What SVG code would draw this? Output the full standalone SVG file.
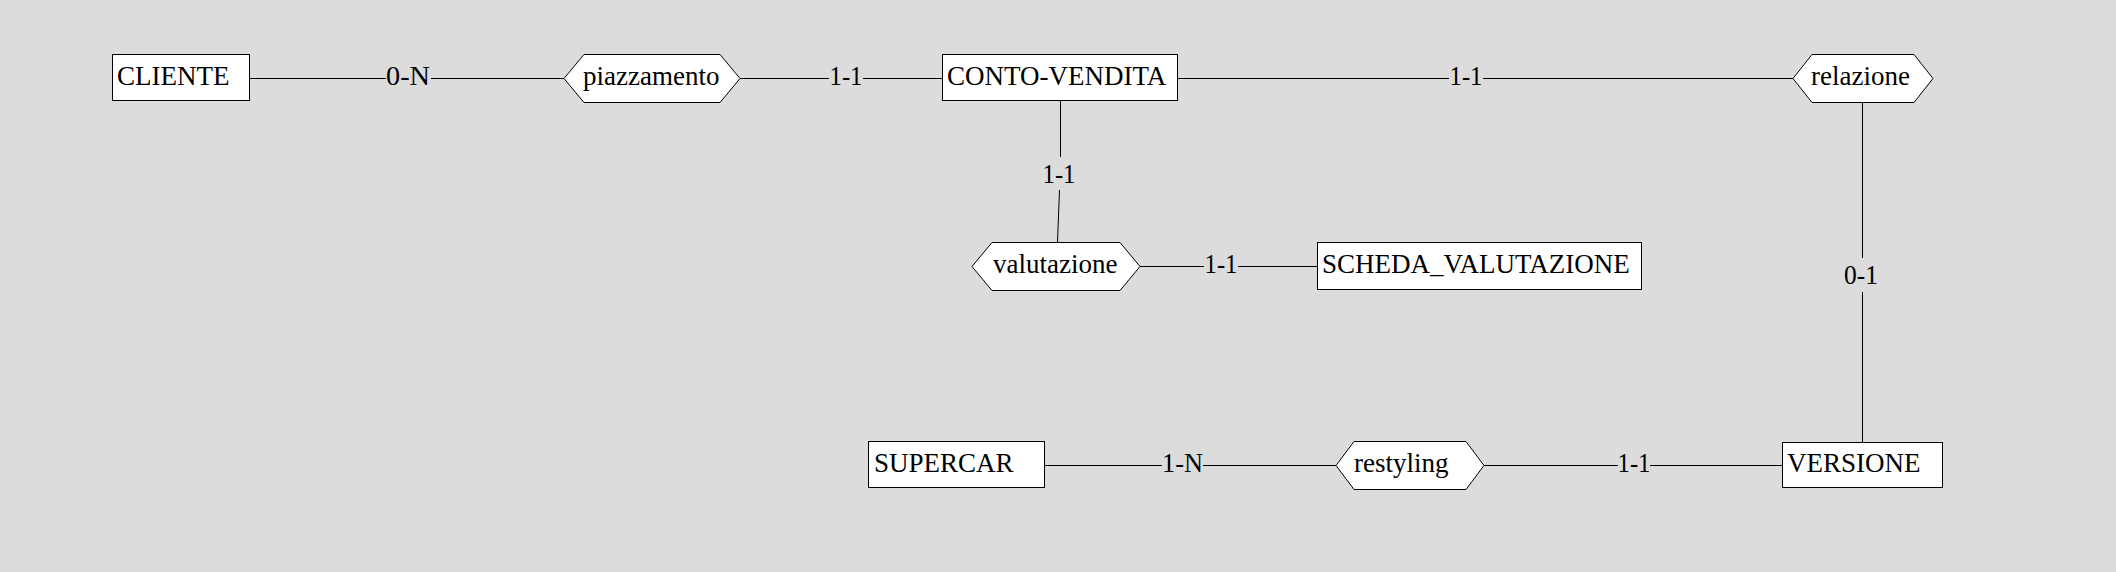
<svg xmlns="http://www.w3.org/2000/svg" width="2116" height="572" viewBox="0 0 2116 572">
<style>
.bg{fill:#dcdcdc}
.ent,.rel{fill:#ffffff;stroke:#000000;stroke-width:1}
.ln{stroke:#000000;stroke-width:1;fill:none}
.t{font-family:"Liberation Serif","Times New Roman",serif;font-size:27px;fill:#000000}
.lb{font-family:"Liberation Serif","Times New Roman",serif;font-size:27px;fill:#000000;text-anchor:middle}
</style>
<rect class="bg" x="0" y="0" width="2116" height="572"/>
<g id="connectors">
  <line class="ln" x1="250" y1="78.5" x2="386" y2="78.5"/>
  <line class="ln" x1="431" y1="78.5" x2="564" y2="78.5"/>
  <text class="lb" x="408" y="85" textLength="44" lengthAdjust="spacingAndGlyphs">0-N</text>
  <line class="ln" x1="740" y1="78.5" x2="829" y2="78.5"/>
  <line class="ln" x1="863" y1="78.5" x2="942" y2="78.5"/>
  <text class="lb" x="846" y="85" textLength="33" lengthAdjust="spacingAndGlyphs">1-1</text>
  <line class="ln" x1="1178" y1="78.5" x2="1449" y2="78.5"/>
  <line class="ln" x1="1483" y1="78.5" x2="1793" y2="78.5"/>
  <text class="lb" x="1466" y="85" textLength="33" lengthAdjust="spacingAndGlyphs">1-1</text>
  <line class="ln" x1="1060.5" y1="100" x2="1060.5" y2="157"/>
  <line class="ln" x1="1059.5" y1="190" x2="1057.5" y2="242"/>
  <text class="lb" x="1059" y="183" textLength="33" lengthAdjust="spacingAndGlyphs">1-1</text>
  <line class="ln" x1="1140" y1="266.5" x2="1204" y2="266.5"/>
  <line class="ln" x1="1238" y1="266.5" x2="1317" y2="266.5"/>
  <text class="lb" x="1221" y="273" textLength="33" lengthAdjust="spacingAndGlyphs">1-1</text>
  <line class="ln" x1="1862.5" y1="102" x2="1862.5" y2="258"/>
  <line class="ln" x1="1862.5" y1="292" x2="1862.5" y2="442"/>
  <text class="lb" x="1861" y="284" textLength="34" lengthAdjust="spacingAndGlyphs">0-1</text>
  <line class="ln" x1="1045" y1="465.5" x2="1162" y2="465.5"/>
  <line class="ln" x1="1203" y1="465.5" x2="1336" y2="465.5"/>
  <text class="lb" x="1182.5" y="472" textLength="41" lengthAdjust="spacingAndGlyphs">1-N</text>
  <line class="ln" x1="1484" y1="465.5" x2="1618" y2="465.5"/>
  <line class="ln" x1="1650" y1="465.5" x2="1782" y2="465.5"/>
  <text class="lb" x="1634" y="472" textLength="33" lengthAdjust="spacingAndGlyphs">1-1</text>
</g>
<g id="cliente">
  <rect class="ent" x="112.5" y="54.5" width="137" height="46"/>
  <text class="t" x="117" y="85">CLIENTE</text>
</g>
<g id="piazzamento">
  <polygon class="rel" points="564,78.5 584,54.5 720,54.5 740,78.5 720,102.5 584,102.5"/>
  <text class="t" x="583" y="85">piazzamento</text>
</g>
<g id="conto-vendita">
  <rect class="ent" x="942.5" y="54.5" width="235" height="46"/>
  <text class="t" x="947" y="85">CONTO-VENDITA</text>
</g>
<g id="relazione">
  <polygon class="rel" points="1793,78.5 1812,54.5 1914,54.5 1933,78.5 1914,102.5 1812,102.5"/>
  <text class="t" x="1811" y="85">relazione</text>
</g>
<g id="valutazione">
  <polygon class="rel" points="972,266.5 992,242.5 1120,242.5 1140,266.5 1120,290.5 992,290.5"/>
  <text class="t" x="993" y="273">valutazione</text>
</g>
<g id="scheda_valutazione">
  <rect class="ent" x="1317.5" y="242.5" width="324" height="47"/>
  <text class="t" x="1322" y="273">SCHEDA_VALUTAZIONE</text>
</g>
<g id="supercar">
  <rect class="ent" x="868.5" y="441.5" width="176" height="46"/>
  <text class="t" x="874" y="472">SUPERCAR</text>
</g>
<g id="restyling">
  <polygon class="rel" points="1336,465.5 1354,441.5 1466,441.5 1484,465.5 1466,489.5 1354,489.5"/>
  <text class="t" x="1354" y="472">restyling</text>
</g>
<g id="versione">
  <rect class="ent" x="1782.5" y="442.5" width="160" height="45"/>
  <text class="t" x="1787" y="472">VERSIONE</text>
</g>
</svg>
